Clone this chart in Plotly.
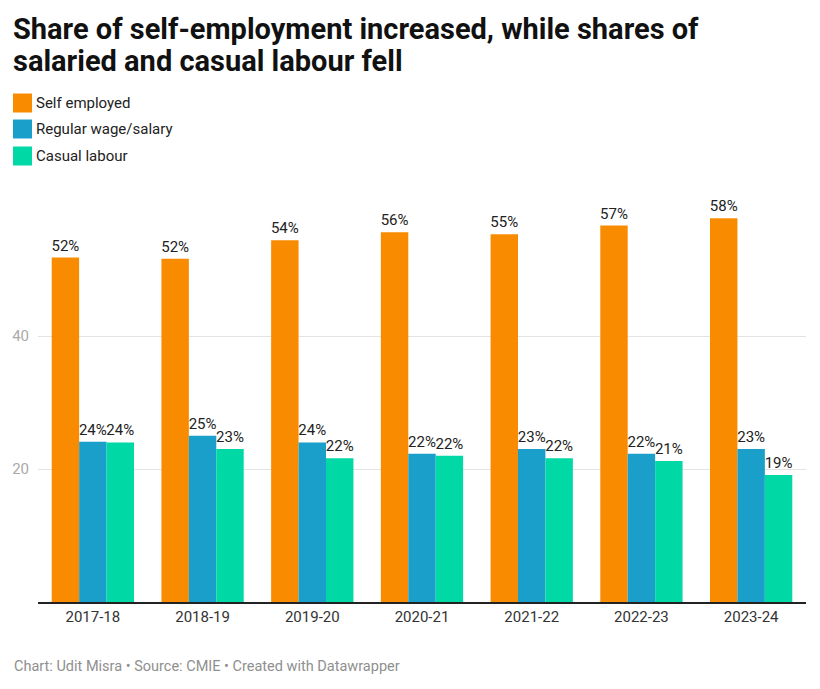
import plotly.graph_objects as go

years = ["2017-18", "2018-19", "2019-20", "2020-21", "2021-22", "2022-23", "2023-24"]
self_employed = [51.8, 51.6, 54.4, 55.6, 55.3, 56.6, 57.7]
regular_wage = [24.1, 25.0, 24.0, 22.3, 23.0, 22.3, 23.0]
casual_labour = [24.0, 23.0, 21.6, 22.0, 21.6, 21.2, 19.1]
series_names = ["Self employed", "Regular wage/salary", "Casual labour"]
colors = ["#F98B00", "#1A9FCB", "#00D9A6"]
y_ticks = [20, 40]
title_lines = ["Share of self-employment increased, while shares of",
               "salaried and casual labour fell"]
footer = "Chart: Udit Misra • Source: CMIE • Created with Datawrapper"

W, H = 820, 689
L, R, T, B = 38, 14, 203, 87
PW, PH = W - L - R, H - T - B

def px_x(x):
    return (x - L) / PW

def px_y(y):
    return (H - B - y) / PH

fig = go.Figure()
for name, vals, col in zip(series_names, [self_employed, regular_wage, casual_labour], colors):
    fig.add_trace(go.Bar(
        x=years, y=vals, name=name, marker=dict(color=col, line=dict(width=0)),
        text=[f"{round(v)}%" for v in vals], textposition="outside",
        textfont=dict(family="Roboto", size=15, color="#222"),
        constraintext="none", cliponaxis=False, showlegend=False,
    ))

shapes = []
annotations = []
for line, yy in zip(title_lines, [29, 61]):
    annotations.append(dict(text=f"<b>{line}</b>", xref="paper", yref="paper",
                            x=px_x(11), y=px_y(yy), xanchor="left", yanchor="middle",
                            showarrow=False,
                            font=dict(family="Roboto", size=29, color="#111")))

leg_y = [103, 129, 156]
for name, col, yy in zip(series_names, colors, leg_y):
    shapes.append(dict(type="rect", xref="paper", yref="paper",
                       x0=px_x(13), x1=px_x(32), y0=px_y(yy - 9.5), y1=px_y(yy + 9.5),
                       fillcolor=col, line=dict(width=0)))
    annotations.append(dict(text=name, xref="paper", yref="paper", x=px_x(34), y=px_y(yy),
                            xanchor="left", yanchor="middle", showarrow=False,
                            font=dict(family="Roboto", size=15, color="#222")))

annotations.append(dict(text=footer,
                        xref="paper", yref="paper", x=px_x(12), y=px_y(666),
                        xanchor="left", yanchor="middle", showarrow=False,
                        font=dict(family="Roboto", size=14.5, color="#8f8f8f")))

fig.update_layout(
    width=W, height=H,
    margin=dict(l=L, r=R, t=T, b=B, pad=0),
    paper_bgcolor="white", plot_bgcolor="white",
    barmode="group", bargap=0.25, bargroupgap=0,
    shapes=shapes, annotations=annotations,
    xaxis=dict(showline=True, linecolor="#222", linewidth=1.5, ticks="",
               tickfont=dict(family="Roboto", size=15, color="#333"), fixedrange=True),
    yaxis=dict(range=[0, 60], tickvals=y_ticks, showgrid=True, gridcolor="#e3e3e3",
               gridwidth=1, zeroline=False, showline=False, ticks="",
               tickfont=dict(family="Roboto", size=15, color="#aaaaaa"), ticklabelstandoff=8),
)

fig.write_html("out.html")
